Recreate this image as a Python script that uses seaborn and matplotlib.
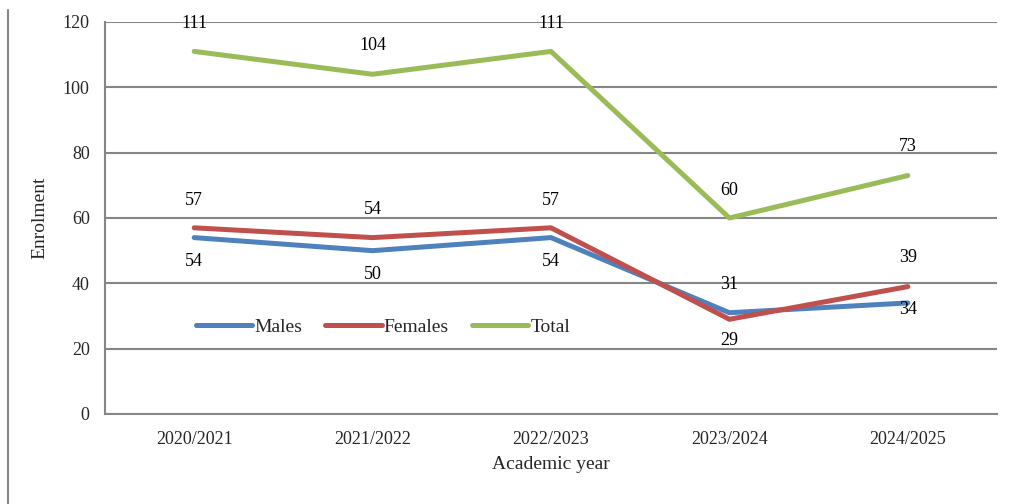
import matplotlib
matplotlib.use("Agg")
import matplotlib.pyplot as plt
import seaborn as sns
import pandas as pd

# Data
years = ["2020/2021", "2021/2022", "2022/2023", "2023/2024", "2024/2025"]
males = [54, 50, 54, 31, 34]
females = [57, 54, 57, 29, 39]
total = [111, 104, 111, 60, 73]

series = {"Males": males, "Females": females, "Total": total}
colors = {"Males": "#4F81BD", "Females": "#C0504D", "Total": "#9BBB59"}

df = pd.DataFrame({
    "year": years * 3,
    "x": list(range(len(years))) * 3,
    "value": males + females + total,
    "series": ["Males"] * 5 + ["Females"] * 5 + ["Total"] * 5,
})

sns.set_style("white")
plt.rcParams["font.family"] = ["Liberation Serif", "DejaVu Serif"]

fig = plt.figure(figsize=(10.12, 5.04), dpi=100)
ax = fig.add_axes([105 / 1012, 1 - 414 / 504, (997 - 105) / 1012, (414 - 22) / 504])

sns.lineplot(data=df, x="x", y="value", hue="series", palette=colors,
             linewidth=3.6, ax=ax, legend=False, solid_capstyle="round")

# label offsets in points (positive = above)
offsets = {
    "Males": [-17, -17, -17, 20, -5],
    "Females": [20, 20, 20, -15, 21],
    "Total": [20, 21, 20, 20, 21],
}
for name, vals in series.items():
    for i, v in enumerate(vals):
        ax.annotate(str(v), (i, v), xytext=(0, offsets[name][i]),
                    textcoords="offset points", ha="center", va="center",
                    fontsize=13, color="black")

ax.set_xlim(-0.5, len(years) - 0.5)
ax.set_ylim(0, 120)
ax.set_yticks(range(0, 121, 20))
ax.set_xticks(range(len(years)))
ax.set_xticklabels(years)
ax.set_xticks([i - 0.5 for i in range(len(years) + 1)], minor=True)
ax.tick_params(axis="x", which="major", length=0, pad=12, labelsize=13)
ax.tick_params(axis="x", which="minor", length=5, width=1.5, color="#868686", direction="out")
ax.tick_params(axis="y", length=5, width=1.5, color="#868686", direction="out", labelsize=13, pad=6)

ax.grid(axis="y", color="#868686", linewidth=1.5)
ax.set_axisbelow(True)
for s in ["top", "right"]:
    ax.spines[s].set_visible(False)
for s in ["left", "bottom"]:
    ax.spines[s].set_color("#868686")
    ax.spines[s].set_linewidth(1.5)

ax.set_xlabel("Academic year", fontsize=14, labelpad=6)
ax.set_ylabel("Enrolment", fontsize=14, labelpad=10)

handles = [plt.Line2D([0], [0], color=colors[n], linewidth=3.6, solid_capstyle="round") for n in series]
ax.legend(handles, list(series), loc="center left", bbox_to_anchor=(0.082, 0.222),
          ncol=3, frameon=False, handlelength=2.9, handletextpad=0.1,
          columnspacing=1.2, fontsize=14)

fig.add_artist(plt.Line2D([8 / 1012, 8 / 1012], [0, 1 - 10 / 504], color="#868686",
                          linewidth=1.5, transform=fig.transFigure))

fig.savefig("out.png", dpi=100)
